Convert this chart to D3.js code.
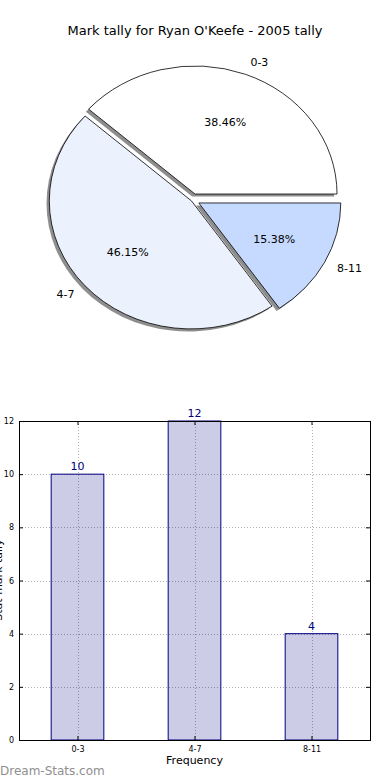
<!DOCTYPE html>
<html>
<head>
<meta charset="utf-8">
<script src="https://cdnjs.cloudflare.com/ajax/libs/d3/7.8.5/d3.min.js"></script>
<style>
  body { margin: 0; background: #fff; }
  svg text { font-family: "DejaVu Sans", sans-serif; }
</style>
</head>
<body>
<script>
// chart data
const categories = ["0-3", "4-7", "8-11"];
const tallies = [10, 12, 4];
const pieColors = ["#ffffff", "#ebf1fd", "#c6d9fe"];
const explode = [0.05, 0.01, 0.05];
const yTicks = [0, 2, 4, 6, 8, 10, 12];

const W = 390, H = 780;
const svg = d3.select("body").append("svg")
  .attr("width", W).attr("height", H);

// ---- pie ----
svg.append("text")
  .attr("x", 195).attr("y", 35)
  .attr("text-anchor", "middle")
  .style("font-size", "13px")
  .text("Mark tally for Ryan O'Keefe - 2005 tally");

const cx = 192.5, cy = 200, rx = 142, ry = 128;
const total = d3.sum(tallies);

// matplotlib starts at 3 o'clock and goes counter-clockwise
const pie = d3.pie().sort(null)
  .startAngle(Math.PI / 2)
  .endAngle(Math.PI / 2 - 2 * Math.PI);
const arcs = pie(tallies);
const unitArc = d3.arc().innerRadius(0).outerRadius(1);

arcs.forEach((a, i) => {
  const m = (a.startAngle + a.endAngle) / 2;
  a.dx = Math.sin(m);
  a.dy = -Math.cos(m);
  a.ox = cx + explode[i] * rx * a.dx;
  a.oy = cy + explode[i] * ry * a.dy;
});

const g = svg.append("g");

// shadows first, under all wedges
g.selectAll("path.shadow")
  .data(arcs).enter().append("path")
  .attr("class", "shadow")
  .attr("d", unitArc)
  .attr("transform", d => `translate(${d.ox - 2.8},${d.oy + 2.6}) scale(${rx},${ry})`)
  .attr("fill", "#8e8e8e");

g.selectAll("path.wedge")
  .data(arcs).enter().append("path")
  .attr("class", "wedge")
  .attr("d", unitArc)
  .attr("transform", d => `translate(${d.ox},${d.oy}) scale(${rx},${ry})`)
  .attr("fill", (d, i) => pieColors[i])
  .attr("stroke", "#000")
  .attr("stroke-width", 0.8)
  .attr("vector-effect", "non-scaling-stroke");

g.selectAll("text.lab")
  .data(arcs).enter().append("text")
  .attr("class", "lab")
  .attr("x", d => d.ox + 1.1 * rx * d.dx)
  .attr("y", d => d.oy + 1.1 * ry * d.dy)
  .attr("dy", "0.35em")
  .attr("text-anchor", d => d.dx > 0 ? "start" : "end")
  .style("font-size", "11px")
  .text((d, i) => categories[i]);

g.selectAll("text.pct")
  .data(arcs).enter().append("text")
  .attr("class", "pct")
  .attr("x", d => d.ox + 0.6 * rx * d.dx)
  .attr("y", d => d.oy + 0.6 * ry * d.dy)
  .attr("dy", "0.35em")
  .attr("text-anchor", "middle")
  .style("font-size", "11px")
  .text(d => (d.value / total * 100).toFixed(2) + "%");

// ---- bar chart ----
const pLeft = 19, pRight = 370, pTop = 421, pBottom = 740;
const x = d3.scaleLinear().domain([-0.5, 2.5]).range([pLeft, pRight]);
const y = d3.scaleLinear().domain([0, 12]).range([pBottom, pTop]);
const barW = 0.45;
const idx = categories.map((c, i) => i);

const grid = svg.append("g")
  .attr("stroke", "#b0b0b0")
  .attr("stroke-dasharray", "1,2")
  .attr("stroke-width", 1);
grid.selectAll("line.h").data(yTicks).enter().append("line")
  .attr("x1", pLeft).attr("x2", pRight)
  .attr("y1", d => Math.round(y(d)) + 0.5).attr("y2", d => Math.round(y(d)) + 0.5);
grid.selectAll("line.v").data(idx).enter().append("line")
  .attr("y1", pTop).attr("y2", pBottom)
  .attr("x1", d => Math.round(x(d)) + 0.5).attr("x2", d => Math.round(x(d)) + 0.5);

svg.selectAll("rect.bar")
  .data(tallies).enter().append("rect")
  .attr("class", "bar")
  .attr("x", (d, i) => x(i - barW / 2))
  .attr("y", d => y(d))
  .attr("width", x(barW) - x(0))
  .attr("height", d => pBottom - y(d))
  .attr("fill", "#000080")
  .attr("fill-opacity", 0.2)
  .attr("stroke", "#000080")
  .attr("stroke-width", 1);

svg.selectAll("text.val")
  .data(tallies).enter().append("text")
  .attr("class", "val")
  .attr("x", (d, i) => x(i))
  .attr("y", d => y(d) - 4)
  .attr("text-anchor", "middle")
  .attr("fill", "#000080")
  .style("font-size", "11px")
  .text(d => d);

const yAxis = svg.append("g")
  .attr("transform", `translate(${pLeft},0)`)
  .call(d3.axisLeft(y).tickValues(yTicks).tickSize(-4).tickPadding(5));
const yAxisR = svg.append("g")
  .attr("transform", `translate(${pRight},0)`)
  .call(d3.axisRight(y).tickValues(yTicks).tickSize(-4).tickFormat(""));
const xAxis = svg.append("g")
  .attr("transform", `translate(0,${pBottom})`)
  .call(d3.axisBottom(x).tickValues(idx).tickSize(-4).tickPadding(6)
    .tickFormat(i => categories[i]));
const xAxisT = svg.append("g")
  .attr("transform", `translate(0,${pTop})`)
  .call(d3.axisTop(x).tickValues(idx).tickSize(-4).tickFormat(""));

[yAxis, yAxisR, xAxis, xAxisT].forEach(a => {
  a.select(".domain").remove();
  a.selectAll("text").style("font-size", "8px").attr("fill", "#000");
  a.selectAll("line").attr("stroke", "#000");
});

svg.append("rect")
  .attr("x", pLeft + 0.5).attr("y", pTop + 0.5)
  .attr("width", pRight - pLeft).attr("height", pBottom - pTop)
  .attr("fill", "none").attr("stroke", "#000").attr("stroke-width", 1);

svg.append("text")
  .attr("x", x(1)).attr("y", 764)
  .attr("text-anchor", "middle")
  .style("font-size", "11px")
  .text("Frequency");

svg.append("text")
  .attr("transform", `translate(2,580) rotate(-90)`)
  .attr("text-anchor", "middle")
  .style("font-size", "11px")
  .text("Stat mark tally");

svg.append("text")
  .attr("x", 0).attr("y", 775)
  .attr("fill", "#8f8f8f")
  .style("font-size", "12px")
  .text("Dream-Stats.com");
</script>
</body>
</html>
